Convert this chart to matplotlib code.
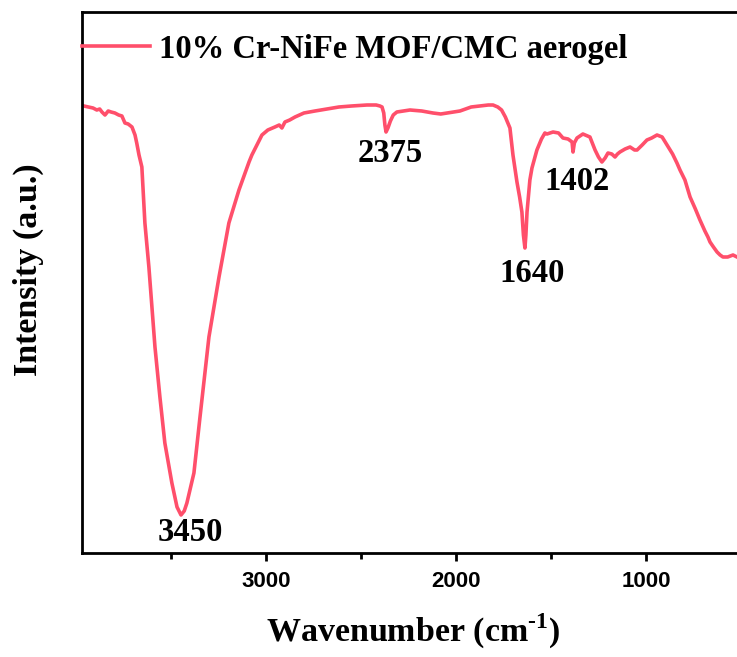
import numpy as np
import matplotlib.pyplot as plt

# FTIR spectrum (wavenumber in cm-1, intensity a.u.)
wavenumber = [3958, 3935, 3910, 3890, 3875, 3863, 3847, 3830, 3815, 3795,
              3775, 3758, 3742, 3725, 3705, 3689, 3680, 3668, 3653, 3637,
              3616, 3600, 3584, 3558, 3532, 3495, 3468, 3447, 3430, 3416,
              3379, 3347, 3300, 3247, 3195, 3142, 3089, 3074, 3021, 2990,
              2953, 2930, 2916, 2900, 2875, 2847, 2800, 2742, 2680, 2616,
              2550, 2468, 2420, 2400, 2389, 2380, 2374, 2368, 2358, 2345,
              2330, 2311, 2242, 2180, 2121, 2080, 2047, 1979, 1920, 1874,
              1830, 1805, 1780, 1760, 1740, 1716, 1700, 1679, 1665, 1653,
              1645, 1637, 1632, 1626, 1611, 1600, 1574, 1550, 1532, 1521,
              1489, 1460, 1437, 1410, 1389, 1384, 1377, 1363, 1332, 1295,
              1268, 1250, 1232, 1215, 1200, 1180, 1163, 1150, 1137, 1110,
              1084, 1060, 1047, 1020, 995, 970, 942, 915, 889, 860,
              837, 821, 795, 768, 740, 716, 690, 674, 663, 645,
              626, 610, 595, 570, 542, 521]
intensity = [447, 446, 445, 443, 444, 441, 438, 442, 441, 440,
             438, 437, 430, 429, 426, 418, 410, 398, 386, 330,
             286, 246, 206, 156, 110, 70, 46, 38, 42, 50,
             80, 136, 216, 276, 330, 363, 391, 398, 418, 423,
             426, 428, 425, 431, 433, 436, 440, 442, 444, 446,
             447, 448, 448, 447, 446, 440, 428, 421, 425, 432,
             438, 441, 443, 442, 440, 439, 440, 442, 446, 447,
             448, 448, 446, 443, 436, 425, 398, 371, 356, 341,
             318, 305, 318, 341, 373, 385, 403, 414, 420, 419,
             421, 420, 415, 414, 411, 401, 410, 415, 419, 416,
             403, 396, 391, 395, 400, 399, 396, 399, 401, 404,
             406, 403, 403, 408, 413, 415, 418, 416, 408, 399,
             390, 383, 373, 356, 344, 333, 322, 316, 311, 306,
             301, 298, 296, 296, 298, 296]

peaks = [3450, 2375, 1640, 1402]
peak_text = ['3450', '2375', '1640', '1402']
label = '10% Cr-NiFe MOF/CMC aerogel'

serif = 'Liberation Serif'
sans = 'Liberation Sans'
plt.rcParams['mathtext.fontset'] = 'custom'
plt.rcParams['mathtext.rm'] = 'Liberation Serif:bold'
plt.rcParams['mathtext.bf'] = 'Liberation Serif:bold'

fig = plt.figure(figsize=(7.37, 6.57), dpi=100)
ax = fig.add_axes([82/737, 1 - 553/657, 1 - 82/737, (553 - 12)/657])

ax.plot(wavenumber, intensity, color='#FF4F6B', lw=2.6, label=label)

ax.set_xlim(3968, 521)
ax.set_ylim(0, 541)
ax.set_yticks([])
ax.set_xticks([3000, 2000, 1000])
ax.set_xticks([3500, 2500, 1500], minor=True)
ax.tick_params(axis='x', which='major', direction='out', length=6, width=2, pad=7)
ax.tick_params(axis='x', which='minor', direction='out', length=4, width=2)
for t in ax.get_xticklabels():
    t.set_fontfamily(sans)
    t.set_fontweight('bold')
    t.set_fontsize(16)
for s in ['left', 'bottom', 'top']:
    ax.spines[s].set_linewidth(2)
ax.spines['right'].set_visible(False)

ax.set_xlabel(r'Wavenumber (cm$^{\text{-1}}$)', fontfamily=serif, fontweight='bold', fontsize=24.5)
ax.xaxis.set_label_coords(0.505, -0.108)
ax.set_ylabel('Intensity (a.u.)', fontfamily=serif, fontweight='bold', fontsize=24.5)
ax.yaxis.set_label_coords(-0.058, 0.523)

# peak labels, offset below the curve
offsets = [(10, -19), (6, -31), (8, -30), (7, -41)]
for p, txt, off in zip(peaks, peak_text, offsets):
    y = np.interp(p, wavenumber[::-1], intensity[::-1])
    ax.annotate(txt, xy=(p, y), xytext=off, textcoords='offset pixels',
                ha='center', va='center', fontfamily=serif, fontweight='bold', fontsize=23.5)

ax.legend(loc='upper left', bbox_to_anchor=(0, 0.9595), frameon=False,
          handlelength=2.09, handletextpad=0.28, borderaxespad=0, borderpad=0,
          prop={'family': serif, 'weight': 'bold', 'size': 23.5})

fig.savefig('out.png', dpi=100)
